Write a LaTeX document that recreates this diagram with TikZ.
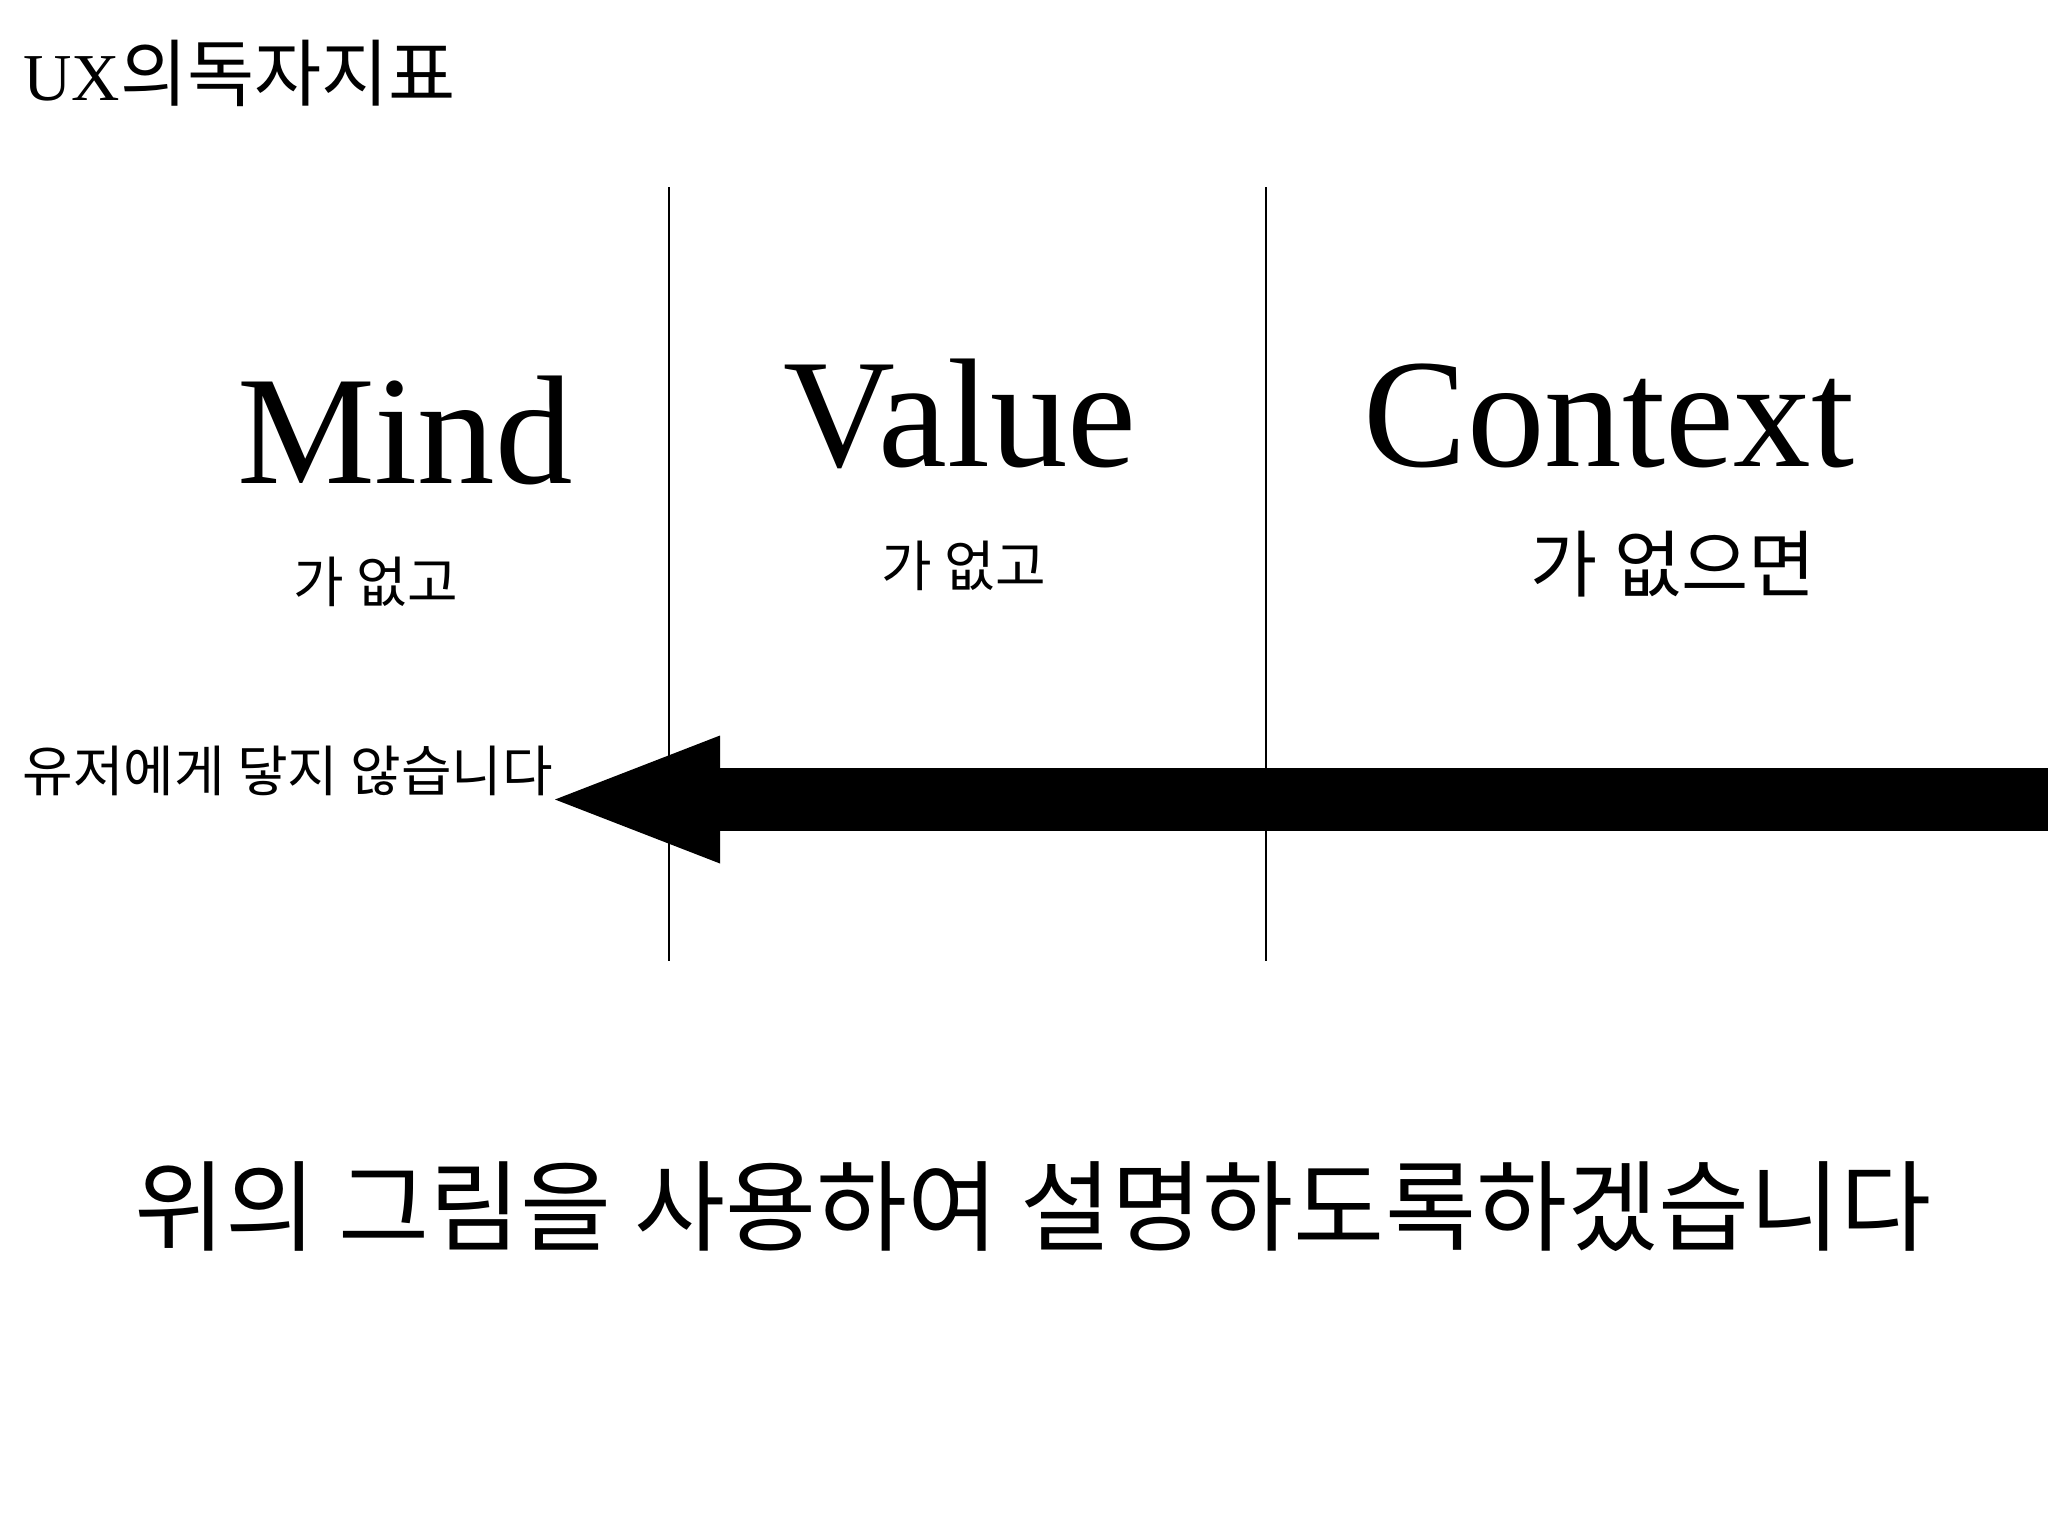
\documentclass[tikz,border=0pt]{standalone}
\usepackage{fontspec}
\setmainfont{Liberation Serif}
\newfontfamily\kr{Noto Sans CJK KR}
\usetikzlibrary{arrows.meta}
\tikzset{
  big/.style={inner sep=0pt, font=\fontsize{77.5}{90}\selectfont},
  krlabel/.style={inner sep=0pt, font=\kr\fontsize{27.5}{33}\selectfont},
  divider/.style={line width=1.2pt},
  bigarrow/.style={line width=31.5pt, -{Triangle[length=82.5pt,width=64pt,line width=0pt]}}
}
\begin{document}
\begin{tikzpicture}[x=0.5pt,y=-0.5pt]
\useasboundingbox[fill=white] (0,0) rectangle (2048,1536);
\node[inner sep=0pt, anchor=base west, font=\fontsize{33.5}{40}\selectfont] (title) at (23,100) {UX{\kr\fontsize{36.5}{40}\selectfont 의독자지표}};
\draw[divider] (669,187) -- (669,961);
\draw[divider] (1266,187) -- (1266,961);
\node[big, anchor=base] (mind) at (405,483) {Mind};
\node[big, anchor=base] (value) at (960,466) {Value};
\node[big, anchor=base] (context) at (1609,466) {Context};
\node[krlabel] (l1) at (376,582) {가 없고};
\node[krlabel] (l2) at (964,566) {가 없고};
\node[krlabel, font=\kr\fontsize{36.5}{44}\selectfont] (l3) at (1673,564) {가 없으면};
\node[krlabel, anchor=west] (user) at (22,771) {유저에게 닿지 않습니다};
\coordinate (src) at (2048,799.5);
\coordinate (tip) at (555,799.5);
\draw[bigarrow] (src) -- (tip);
\node[inner sep=0pt, font=\kr\fontsize{49.5}{60}\selectfont] (bottom) at (1033,1207) {위의 그림을 사용하여 설명하도록하겠습니다};
\end{tikzpicture}
\end{document}
